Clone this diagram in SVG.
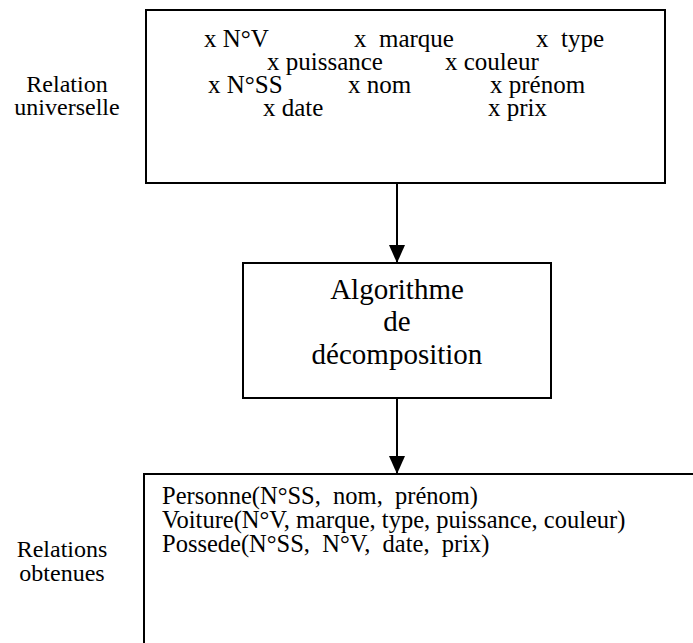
<svg xmlns="http://www.w3.org/2000/svg" width="693" height="643" viewBox="0 0 693 643">
<style>
.box{fill:#fff;stroke:#000;stroke-width:2}
.t{font-size:25px}
.b{font-size:24.5px}
.m{font-size:29px;text-anchor:middle}
.l{font-size:24px;text-anchor:middle}
.c{stroke:#000;stroke-width:2;fill:none}
</style>
<defs>
<marker id="ah" markerWidth="18" markerHeight="16" refX="18" refY="8" orient="auto" markerUnits="userSpaceOnUse">
<path d="M0,0 L18,8 L0,16 Z" fill="#000"/>
</marker>
</defs>
<rect width="693" height="643" fill="#fff"/>
<g font-family="'Liberation Serif', 'Times New Roman', serif" fill="#000">
<g id="label-universelle">
<text class="l" x="67" y="92">Relation</text>
<text class="l" x="67" y="115">universelle</text>
</g>
<g id="relation-universelle">
<rect class="box" x="146" y="10" width="519" height="173"/>
<text class="t" x="204" y="47">x N°V</text>
<text class="t" x="354" y="47" xml:space="preserve">x  marque</text>
<text class="t" x="536" y="47" xml:space="preserve">x  type</text>
<text class="t" x="267" y="70">x puissance</text>
<text class="t" x="445" y="70">x couleur</text>
<text class="t" x="208" y="93">x N°SS</text>
<text class="t" x="348" y="93">x nom</text>
<text class="t" x="490" y="93">x prénom</text>
<text class="t" x="263" y="116">x date</text>
<text class="t" x="488" y="116">x prix</text>
</g>
<g id="algorithme">
<rect class="box" x="243" y="263" width="308" height="135"/>
<text class="m" x="397" y="299">Algorithme</text>
<text class="m" x="397" y="331">de</text>
<text class="m" x="397" y="364">décomposition</text>
</g>
<g id="label-obtenues">
<text class="l" x="62" y="557">Relations</text>
<text class="l" x="62" y="581">obtenues</text>
</g>
<g id="relations-obtenues">
<rect class="box" x="144" y="474" width="560" height="200"/>
<text class="b" x="162" y="504" xml:space="preserve">Personne(N°SS,  nom,  prénom)</text>
<text class="b" x="162" y="528">Voiture(N°V, marque, type, puissance, couleur)</text>
<text class="b" x="162" y="552" xml:space="preserve">Possede(N°SS,  N°V,  date,  prix)</text>
</g>
</g>
<g id="connectors">
<line class="c" x1="397" y1="183" x2="397" y2="263" marker-end="url(#ah)"/>
<line class="c" x1="397" y1="398" x2="397" y2="474" marker-end="url(#ah)"/>
</g>
</svg>
